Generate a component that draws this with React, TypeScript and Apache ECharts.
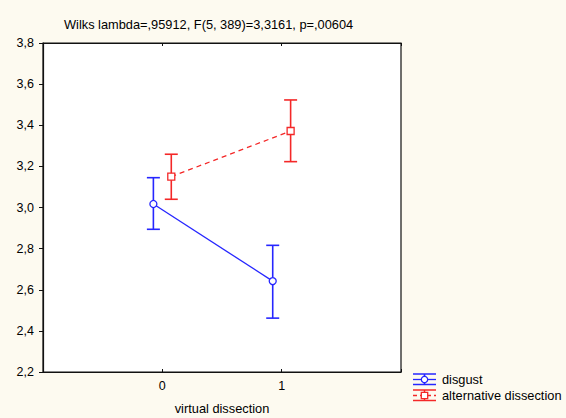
import React, { useEffect, useRef } from "react";
import * as echarts from "echarts";

const categories = [0, 1];
const categoryLabels = ["0", "1"];
const disgustMean = [3.017, 2.642];
const disgustLow = [2.894, 2.462];
const disgustHigh = [3.145, 2.816];
const altMean = [3.15, 3.372];
const altLow = [3.04, 3.223];
const altHigh = [3.259, 3.523];
const yTicks = [2.2, 2.4, 2.6, 2.8, 3.0, 3.2, 3.4, 3.6, 3.8];
const seriesNames = ["disgust", "alternative dissection"];
const titleText = "Wilks lambda=,95912, F(5, 389)=3,3161, p=,00604";
const xName = "virtual dissection";

const BLUE = "#2626ff";
const RED = "#f42828";
const FONT = "Liberation Sans, Arial, sans-serif";

export default function App() {
  const ref = useRef<HTMLDivElement>(null);
  useEffect(() => {
    if (!ref.current) return;
    const chart = echarts.init(ref.current, null, { renderer: "svg" });
    const off = 0.075;
    const mk = (mean: number[], d: number) => categories.map((c, i) => [c + d, mean[i]]);
    const eb = (lo: number[], hi: number[], d: number) => categories.map((c, i) => [c + d, lo[i], hi[i]]);
    const errRender = (color: string) => (params: any, api: any) => {
      const x = api.value(0);
      const p1 = api.coord([x, api.value(1)]);
      const p2 = api.coord([x, api.value(2)]);
      const hw = 6.5;
      const st = { stroke: color, lineWidth: 1.6 };
      return {
        type: "group",
        children: [
          { type: "line", shape: { x1: p1[0], y1: p1[1], x2: p2[0], y2: p2[1] }, style: st },
          { type: "line", shape: { x1: p1[0] - hw, y1: p1[1], x2: p1[0] + hw, y2: p1[1] }, style: st },
          { type: "line", shape: { x1: p2[0] - hw, y1: p2[1], x2: p2[0] + hw, y2: p2[1] }, style: st },
        ],
      };
    };
    const legendIcon = (y: number, color: string, dashed: boolean, shape: "circle" | "rect") => {
      const x1 = 413, x2 = 436, cx = 424.5;
      const st = { stroke: color, lineWidth: 1.5 };
      const children: any[] = [
        { type: "line", shape: { x1, y1: y - 5.5, x2, y2: y - 5.5 }, style: st },
        { type: "line", shape: { x1, y1: y + 5, x2, y2: y + 5 }, style: st },
        { type: "line", shape: { x1: cx, y1: y - 5.5, x2: cx, y2: y + 5 }, style: st },
        { type: "line", shape: { x1, y1: y, x2, y2: y }, style: { stroke: color, lineWidth: 1.3, lineDash: dashed ? [4, 3] : null } },
      ];
      if (shape === "circle") children.push({ type: "circle", shape: { cx, cy: y, r: 3.2 }, style: { fill: "#fff", stroke: color, lineWidth: 1.3 } });
      else children.push({ type: "rect", shape: { x: cx - 3.2, y: y - 3.2, width: 6.4, height: 6.4 }, style: { fill: "#fff", stroke: color, lineWidth: 1.3 } });
      return { type: "group", children };
    };
    chart.setOption({
      animation: false,
      backgroundColor: "#fdfaf0",
      textStyle: { fontFamily: FONT },
      title: {
        text: titleText,
        left: 59,
        top: 13,
        textStyle: { fontSize: 12.8, fontWeight: "normal", color: "#000", fontFamily: FONT },
      },
      grid: {
        left: 43, top: 43, width: 358, height: 329,
        outerBoundsMode: "none",
        containLabel: false,
        show: true, backgroundColor: "#fff", borderColor: "#111", borderWidth: 1.2,
      },
      xAxis: [
        {
          type: "value", min: -1, max: 2, interval: 1,
          name: xName, nameLocation: "middle", nameGap: 30,
          nameTextStyle: { fontSize: 12.8, color: "#000", fontFamily: FONT },
          axisLine: { show: true, onZero: false, lineStyle: { color: "#111", width: 1.2 } },
          axisTick: { show: true, inside: true, length: 3, lineStyle: { color: "#111" } },
          axisLabel: {
            fontSize: 12.5, color: "#000", margin: 7, fontFamily: FONT,
            formatter: (v: number) => { const i = categories.indexOf(v); return i >= 0 ? categoryLabels[i] : ""; },
          },
          splitLine: { show: false },
        },
        {
          type: "value", position: "top", min: -1, max: 2, interval: 1,
          axisLine: { show: true, onZero: false, lineStyle: { color: "#111", width: 1.2 } },
          axisTick: { show: true, inside: true, length: 3, lineStyle: { color: "#111" } },
          axisLabel: { show: false },
          splitLine: { show: false },
        },
      ],
      yAxis: {
        type: "value", min: yTicks[0], max: yTicks[yTicks.length - 1], interval: 0.2,
        axisLine: { show: true, onZero: false, lineStyle: { color: "#111", width: 1.2 } },
        axisTick: { show: true, inside: false, length: 4, lineStyle: { color: "#111" } },
        axisLabel: {
          fontSize: 12.5, color: "#000", margin: 9, fontFamily: FONT,
          formatter: (v: number) => v.toFixed(1).replace(".", ","),
        },
        splitLine: { show: false },
      },
      series: [
        {
          name: seriesNames[0], type: "line", data: mk(disgustMean, -off),
          symbol: "circle", symbolSize: 7, lineStyle: { color: BLUE, width: 1.3 },
          itemStyle: { color: "#fff", borderColor: BLUE, borderWidth: 1.3 }, z: 3,
        },
        {
          name: seriesNames[1], type: "line", data: mk(altMean, off),
          symbol: "rect", symbolSize: 7, lineStyle: { color: RED, width: 1.3, type: [5, 4] },
          itemStyle: { color: "#fff", borderColor: RED, borderWidth: 1.3 }, z: 3,
        },
        { type: "custom", data: eb(disgustLow, disgustHigh, -off), renderItem: errRender(BLUE), z: 2 },
        { type: "custom", data: eb(altLow, altHigh, off), renderItem: errRender(RED), z: 2 },
      ],
      graphic: [
        legendIcon(379.5, BLUE, false, "circle"),
        legendIcon(395.5, RED, true, "rect"),
        { type: "text", left: 442, top: 373, style: { text: seriesNames[0], fontSize: 12.8, fill: "#000", fontFamily: FONT } },
        { type: "text", left: 442, top: 389, style: { text: seriesNames[1], fontSize: 12.8, fill: "#000", fontFamily: FONT } },
      ],
    });
    return () => chart.dispose();
  }, []);
  return <div ref={ref} style={{ position: "fixed", left: 0, top: 0, width: 566, height: 418 }} />;
}
